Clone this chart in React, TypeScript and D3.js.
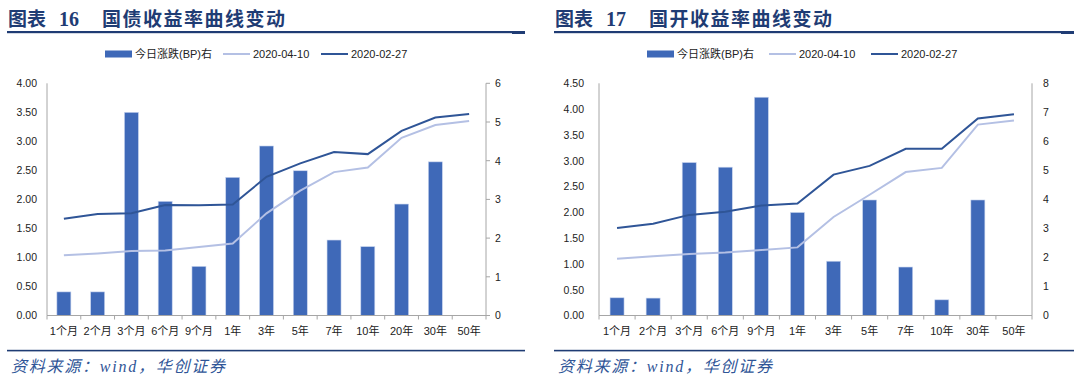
import React from "react";
import * as d3 from "d3";

const cats1 = ["1个月", "2个月", "3个月", "6个月", "9个月", "1年", "3年", "5年", "7年", "10年", "20年", "30年", "50年"];
const bp1 = [0.61, 0.61, 5.25, 2.95, 1.27, 3.57, 4.38, 3.74, 1.95, 1.78, 2.88, 3.97, 0];
const apr1 = [1.04, 1.07, 1.11, 1.12, 1.18, 1.24, 1.76, 2.15, 2.47, 2.55, 3.06, 3.28, 3.35];
const feb1 = [1.665, 1.75, 1.76, 1.905, 1.9, 1.91, 2.39, 2.62, 2.815, 2.78, 3.18, 3.41, 3.47];

const cats2 = ["1个月", "2个月", "3个月", "6个月", "9个月", "1年", "3年", "5年", "7年", "10年", "30年", "50年"];
const bp2 = [0.61, 0.6, 5.27, 5.11, 7.52, 3.55, 1.87, 3.98, 1.67, 0.54, 3.98, 0];
const apr2 = [1.1, 1.15, 1.19, 1.22, 1.27, 1.32, 1.91, 2.34, 2.78, 2.86, 3.7, 3.78];
const feb2 = [1.695, 1.78, 1.95, 2.01, 2.13, 2.17, 2.73, 2.9, 3.23, 3.23, 3.82, 3.9];

const legendLabels = ["今日涨跌(BP)右", "2020-04-10", "2020-02-27"];

const BAR = "#3F69B8";
const DARK = "#2F5597";
const LIGHT = "#B4C0E4";
const AXIS = "#A6A6A6";
const NAVY = "#1F3C74";
const FONT = "'Liberation Sans', Arial, 'Noto Sans CJK SC', sans-serif";

type Cfg = {
  x0: number; x1: number; yTop: number; yBot: number;
  cats: string[]; bp: number[]; apr: number[]; feb: number[];
  leftMax: number; rightMax: number; rightTicks: boolean;
  leftLabelGap: number; rightLabelGap: number;
  titleNum: string; titleText: string; titleX: number;
  lineX0: number; lineX1: number;
  legendX: number[];
};

function Chart({ c }: { c: Cfg }) {
  const x = d3.scaleBand<string>().domain(c.cats).range([c.x0, c.x1]).padding(0);
  const yl = d3.scaleLinear().domain([0, c.leftMax]).range([c.yBot, c.yTop]);
  const yr = d3.scaleLinear().domain([0, c.rightMax]).range([c.yBot, c.yTop]);
  const bw = 14;
  const leftTicks = d3.range(0, c.leftMax + 0.001, 0.5);
  const rightTicks = d3.range(0, c.rightMax + 0.001, 1);
  const line = (vals: number[]) =>
    d3.line<number>().x((_, i) => (x(c.cats[i]) as number) + x.bandwidth() / 2).y((v) => yl(v))(vals) as string;
  const boundaries = d3.range(c.cats.length + 1).map((i) => c.x0 + i * x.bandwidth());
  const lx = c.legendX;
  return (
    <g>
      {/* title */}
      <text x={c.titleX} y={26} fontFamily="'Liberation Serif', 'Noto Sans CJK SC', serif" fontWeight="bold" fontSize={19} fill={NAVY}>
        图表
      </text>
      <text x={c.titleX + 51} y={26} fontFamily="'Liberation Serif', serif" fontWeight="bold" fontSize={20} fill={NAVY}>
        {c.titleNum}
      </text>
      <text x={c.titleX + 94} y={26} fontFamily="'Noto Sans CJK SC', sans-serif" fontWeight="bold" fontSize={19} fill={NAVY} textLength={183} lengthAdjust="spacing">
        {c.titleText}
      </text>
      <rect x={c.lineX0} y={31} width={c.lineX1 - c.lineX0} height={2.2} fill={NAVY} />
      <rect x={c.lineX1 - 13} y={31} width={13} height={3} fill={NAVY} />

      {/* legend */}
      <rect x={lx[0]} y={50.5} width={27} height={7} fill={BAR} />
      <text x={lx[0] + 30} y={58} fontFamily={FONT} fontSize={11} fill="#222">{legendLabels[0]}</text>
      <line x1={lx[1]} x2={lx[1] + 27} y1={54} y2={54} stroke={LIGHT} strokeWidth={2} />
      <text x={lx[1] + 30} y={58} fontFamily={FONT} fontSize={11} fill="#222">{legendLabels[1]}</text>
      <line x1={lx[2]} x2={lx[2] + 27} y1={54} y2={54} stroke={DARK} strokeWidth={2} />
      <text x={lx[2] + 30} y={58} fontFamily={FONT} fontSize={11} fill="#222">{legendLabels[2]}</text>

      {/* bars */}
      {c.bp.map((v, i) =>
        v > 0 ? (
          <rect key={i} x={(x(c.cats[i]) as number) + x.bandwidth() / 2 - bw / 2} y={yr(v)} width={bw} height={c.yBot - yr(v)} fill={BAR} stroke="#C9D5EE" strokeWidth={0.6} />
        ) : null
      )}

      {/* axes */}
      <line x1={c.x0} x2={c.x0} y1={c.yTop} y2={c.yBot} stroke={AXIS} strokeWidth={1} />
      <line x1={c.x1} x2={c.x1} y1={c.yTop} y2={c.yBot} stroke={AXIS} strokeWidth={1} />
      <line x1={c.x0} x2={c.x1} y1={c.yBot} y2={c.yBot} stroke={AXIS} strokeWidth={1.2} />
      {boundaries.map((bx, i) => (
        <line key={i} x1={bx} x2={bx} y1={c.yBot} y2={c.yBot + 4} stroke={AXIS} strokeWidth={1} />
      ))}
      {leftTicks.map((t, i) => (
        <text key={i} x={c.x0 - c.leftLabelGap} y={yl(t) + 3.8} textAnchor="end" fontFamily={FONT} fontSize={10.5} fill="#222">
          {d3.format(".2f")(t)}
        </text>
      ))}
      {rightTicks.map((t, i) => (
        <g key={i}>
          {c.rightTicks ? <line x1={c.x1} x2={c.x1 + 4} y1={yr(t)} y2={yr(t)} stroke={AXIS} strokeWidth={1} /> : null}
          <text x={c.x1 + c.rightLabelGap} y={yr(t) + 3.8} fontFamily={FONT} fontSize={10.5} fill="#222">
            {t}
          </text>
        </g>
      ))}
      {c.cats.map((cat, i) => (
        <text key={i} x={(x(cat) as number) + x.bandwidth() / 2} y={335} textAnchor="middle" fontFamily={FONT} fontSize={11} fill="#222">
          {cat}
        </text>
      ))}

      {/* lines */}
      <path d={line(c.apr)} fill="none" stroke={LIGHT} strokeWidth={2} />
      <path d={line(c.feb)} fill="none" stroke={DARK} strokeWidth={2} />

      {/* source */}
      <rect x={c.lineX0} y={349.8} width={c.lineX1 - c.lineX0} height={1.6} fill={NAVY} />
      <text x={c.titleX + 3} y={372} fontFamily="'Liberation Serif', 'Noto Sans CJK SC', serif" fontStyle="italic" fontSize={16} fill="#2F5597" textLength={214} lengthAdjust="spacing">
        资料来源：wind，华创证券
      </text>
    </g>
  );
}

const cfg1: Cfg = {
  x0: 47, x1: 486, yTop: 83.3, yBot: 315.5,
  cats: cats1, bp: bp1, apr: apr1, feb: feb1,
  leftMax: 4, rightMax: 6, rightTicks: true,
  leftLabelGap: 10, rightLabelGap: 9,
  titleNum: "16", titleText: "国债收益率曲线变动", titleX: 8,
  lineX0: 7, lineX1: 525,
  legendX: [105, 223, 321],
};

const cfg2: Cfg = {
  x0: 599, x1: 1032, yTop: 83.3, yBot: 315.5,
  cats: cats2, bp: bp2, apr: apr2, feb: feb2,
  leftMax: 4.5, rightMax: 8, rightTicks: false,
  leftLabelGap: 15, rightLabelGap: 11,
  titleNum: "17", titleText: "国开收益率曲线变动", titleX: 555,
  lineX0: 554, lineX1: 1074,
  legendX: [647, 769, 871],
};

export default function App() {
  return (
    <svg width={1080} height={380} style={{ position: "absolute", left: 0, top: 0, background: "#fff" }}>
      <rect width={1080} height={380} fill="#fff" />
      <Chart c={cfg1} />
      <Chart c={cfg2} />
    </svg>
  );
}
